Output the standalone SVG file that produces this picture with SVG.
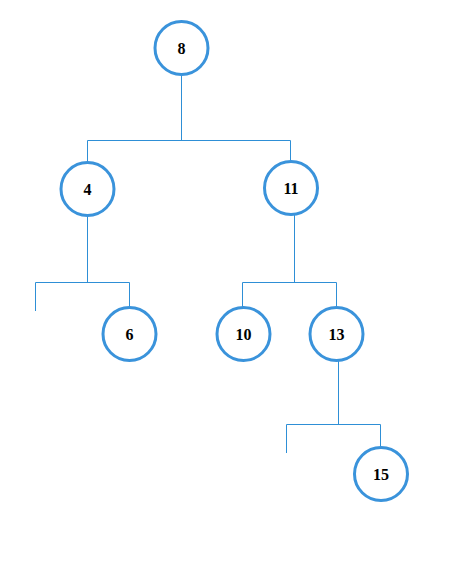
<svg xmlns="http://www.w3.org/2000/svg" width="466" height="575" viewBox="0 0 466 575">
<style>
.n circle{fill:#fff;stroke:#3a93db;stroke-width:3}
.n text{font-family:"Liberation Serif",serif;font-size:16px;font-weight:bold;fill:#000;text-anchor:middle;dominant-baseline:central}
.c path{fill:none;stroke:#2e8fd6;stroke-width:1}
</style>
<rect width="466" height="575" fill="#fff"/>
<g class="c">
<path d="M181.5,76 V140.5 M87.5,140.5 H290.5 M87.5,140.5 V162 M290.5,140.5 V161"/>
<path d="M87.5,216 V282.5 M35.5,282.5 H129.5 M35.5,282.5 V311 M129.5,282.5 V307"/>
<path d="M294.5,215 V282.5 M242.5,282.5 H336.5 M242.5,282.5 V307 M336.5,282.5 V307"/>
<path d="M338.5,361 V424.5 M286.5,424.5 H380.5 M286.5,424.5 V453 M380.5,424.5 V447"/>
</g>
<g id="n8" class="n"><circle cx="181.5" cy="48" r="26.5"/><text x="181.5" y="48">8</text></g>
<g id="n4" class="n"><circle cx="87.5" cy="189" r="26.5"/><text x="87.5" y="189">4</text></g>
<g id="n11" class="n"><circle cx="291" cy="188" r="26.5"/><text x="291" y="188">11</text></g>
<g id="n6" class="n"><circle cx="129.5" cy="334" r="26.5"/><text x="129.5" y="334">6</text></g>
<g id="n10" class="n"><circle cx="243.5" cy="334" r="26.5"/><text x="243.5" y="334">10</text></g>
<g id="n13" class="n"><circle cx="336.5" cy="334" r="26.5"/><text x="336.5" y="334">13</text></g>
<g id="n15" class="n"><circle cx="381" cy="474" r="26.5"/><text x="381" y="474">15</text></g>
</svg>
